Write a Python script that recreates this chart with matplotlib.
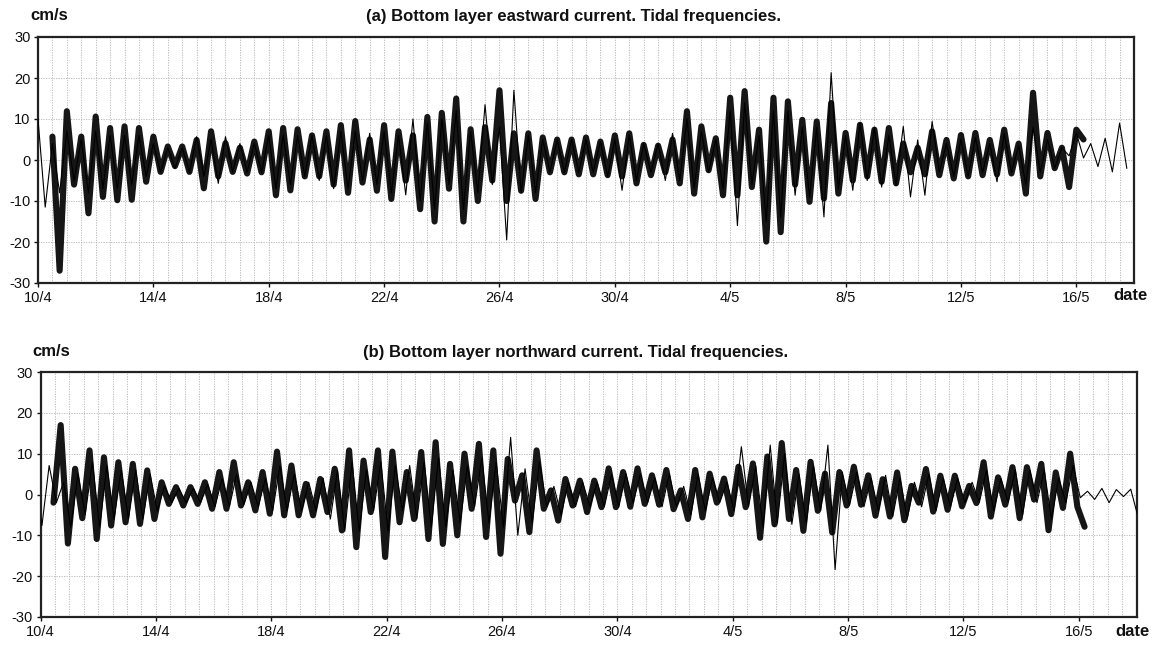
import numpy as np
import matplotlib
matplotlib.use('Agg')
import matplotlib.pyplot as plt
from matplotlib.ticker import MultipleLocator

plt.rcParams['font.family'] = ['Liberation Sans', 'DejaVu Sans']
plt.rcParams['axes.unicode_minus'] = False

# time axis: days from 10/4 00:00; one value per tidal high / low (6 h apart)
step = 0.25

# (a) eastward current, observed (thick) and modelled (thin), cm/s
east_obs_start = 0.5
east_obs = [5.7, -27, 11.9, -6, 5.7, -13, 10.6, -9, 7.8, -9.8, 8.2, -9.7,
            7.8, -5.3, 5.7, -2.9, 3.3, -1.5, 3.3, -2.9, 4.9, -6.9, 7, -4,
            4.1, -2.9, 3, -3.3, 4.5, -3, 7, -8.6, 7.8, -7.4, 7.5, -4,
            6, -4, 7, -6, 8.5, -8, 9.5, -5.5, 5, -7.5, 8.5, -9.5,
            7, -5, 6, -12, 10.5, -15, 11.5, -7, 15, -15, 7.5, -10,
            8, -5, 17, -10, 6.5, -7.5, 6.5, -9.5, 5.5, -3, 5, -3,
            5, -3.5, 5.5, -3.5, 4.5, -3.7, 6, -4, 6.5, -5.7, 3.7, -3.7,
            3.5, -3, 5, -5.7, 11.9, -8.2, 8.2, -2.5, 5.3, -8.6, 15.2, -8.6,
            16.8, -6.6, 7.4, -19.9, 15.2, -17.6, 14.3, -6, 9.8, -10.2, 9.4, -9.4,
            13.9, -8.2, 6.6, -5, 8.6, -4, 7.4, -5.3, 7.8, -5.7, 4, -3,
            3, -3.5, 7, -3.7, 4.9, -4.5, 6.1, -4, 6.6, -3.7, 4.9, -3.5,
            7.4, -3.3, 4, -8.2, 16.4, -4, 6.6, -2, 3, -6.6, 7.4, 5]
east_mod_start = 0.0
east_mod = [10, -11.5, 4, -8, 7, -5, 5, -8, 7, -7, 6, -7,
            6, -6, 6, -4, 4, -3, 3, -2, 3, -3, 5.7, -4,
            5, -5.7, 5.7, -3, 4, -3, 4, -3, 6, -7, 6, -6,
            6, -4, 6, -5, 6, -7, 7, -7, 7, -5, 6.5, -6,
            7, -8, 6, -8.5, 10, -10, 9, -12, 10, -6, 12, -12,
            7, -8, 13.5, -6, 8, -19.5, 17, -8, 6, -8, 5, -3,
            5, -3, 5, -3, 5, -3, 4.5, -4, 5, -7.4, 6, -5,
            4, -3, 4, -5, 6.5, -5, 10, -7, 7, -3, 5, -7,
            12, -16, 14, -6, 6, -15, 12, -14, 12, -8.6, 8, -9,
            8, -13.9, 21.3, -7, 6, -7.4, 9, -5, 8, -6.6, 6, -6.1,
            8.2, -9, 4.9, -8.6, 9.4, -3, 4, -4, 5, -4, 5.5, -3,
            4, -5.3, 6.5, -3, 3.5, -6, 8, -3, 5, -2, 3, 1,
            6.6, 0.5, 4, -1.6, 5.3, -2.9, 9, -2]

# (b) northward current
north_obs_start = 0.45
north_obs = [-2, 17, -12, 6.3, -5.8, 10.8, -10.9, 9.1, -7.6, 7.9, -6.8, 7.5,
             -7.2, 5.9, -6, 3, -2.3, 1.8, -2.7, 1.8, -2.3, 3, -3.5, 5.5,
             -3.5, 7.9, -2.7, 3, -3.9, 5.5, -4.7, 10.5, -5.1, 7.1, -5.1, 2.6,
             -5.1, 3.8, -4.3, 6.3, -8.8, 10.8, -12.9, 8.3, -4.3, 10.8, -15.3, 10.5,
             -6.8, 5.5, -6, 10.4, -10.9, 12.8, -12.1, 7.5, -10, 10, -3.5, 12.4,
             -10.4, 10.8, -14.5, 8.7, -1.5, 4.7, -9.2, 10.8, -3.5, 1, -6.4, 3.8,
             -2.7, 3.4, -4.3, 3.4, -3.1, 6.4, -3.1, 5.5, -3, 6.4, -2.3, 4.7,
             -2.5, 6, -3.6, 1, -6, 6, -5.6, 5.1, -2, 3.9, -4.8, 6.8,
             -3.1, 7.6, -10.6, 9.3, -7.3, 12.6, -6, 6, -8.9, 8, -4, 5.1,
             -9.3, 5.5, -2.7, 6.8, -2.5, 4.7, -5.2, 3.75, -5.4, 5.4, -6.3, 2.1,
             -2, 6.25, -4.2, 4.6, -3.75, 4.6, -2.9, 2.1, -2.1, 7.9, -5.4, 4.2,
             -2.5, 6.7, -5.8, 6.7, -1.25, 7.5, -8.75, 5.4, -3.3, 10, -3, -7.9]
north_mod_start = -0.2
north_mod = [3.5, -7.6, 7.1, -2, 3, -8, 5, -5, 8, -8, 7, -6,
             6, -6, 6, -6, 5, -4, 2, -2, 1.5, -2, 1.5, -2,
             2.5, -3, 4, -3, 5, -2.5, 3, -3, 4, -4, 7, -4,
             5, -4, 3, -4, 4, -6, 6, -9, 8, -9, 6, -4,
             8, -9, 7.1, -4, 7.1, -6, 8, -8, 9, -8, 6, -7,
             7, -3, 9, -7, 8, -8, 14, -10, 6.3, -7, 8, -3,
             2, -5, 3, -3, 3, -3, 3, -3, 5, -3.1, 5.1, -2,
             5, -2, 4, -3, 5, -3, 2, -5, 5, -4, 4, -2,
             3, -4, 11.7, -3, 7, -8, 12.1, -7, 10, -7.3, 5, -7,
             7, -4, 12.1, -18.4, 5.5, -2.7, 5.5, -3, 4, -4, 4.7, -5.4,
             4, -6, 3, -3, 5, -4, 4, -3, 4, -2, 3, -2,
             6, -4, 4, -2, 6, -5, 6, -2, 6, -6, 4, -2,
             7, -0.8, 0.8, -1.2, 1.5, -2, 1.2, -0.5, 1.3, -5.4]

tick_days = [0, 4, 8, 12, 16, 20, 24, 28, 32, 36]
tick_labels = ['10/4', '14/4', '18/4', '22/4', '26/4', '30/4', '4/5', '8/5', '12/5', '16/5']


def times(start, vals):
    return start + step * np.arange(len(vals))


def style(ax):
    ax.set_xlim(0, 38)
    ax.set_ylim(-30, 30)
    ax.set_xticks(tick_days)
    ax.set_xticklabels(tick_labels)
    ax.set_yticks(range(-30, 31, 10))
    ax.xaxis.set_minor_locator(MultipleLocator(0.5))
    gs = dict(color='#b4b4b4', lw=0.6, ls=(0, (1.5, 1.5)))
    ax.grid(which='both', axis='x', **gs)
    ax.grid(which='major', axis='y', **gs)
    ax.tick_params(which='minor', length=0)
    ax.tick_params(which='major', direction='out', length=3, width=1,
                   labelsize=10.5, pad=2.5, colors='#111111')
    for s in ax.spines.values():
        s.set_linewidth(1.6)
        s.set_color('#222222')


fig = plt.figure(figsize=(11.57, 6.52), dpi=100)
ax1 = fig.add_axes([38 / 1157, 1 - 283 / 652, 1096 / 1157, 246 / 652])
ax2 = fig.add_axes([40.5 / 1157, 1 - 617 / 652, 1096 / 1157, 245 / 652])

panels = [(ax1, east_obs_start, east_obs, east_mod_start, east_mod),
          (ax2, north_obs_start, north_obs, north_mod_start, north_mod)]
for ax, os_, obs, ms, mod in panels:
    style(ax)
    ax.plot(times(os_, obs), obs, color='#161616', lw=4.4,
            solid_joinstyle='round', solid_capstyle='round', zorder=3)
    ax.plot(times(ms, mod), mod, color='black', lw=0.8, zorder=4)

bold = dict(fontweight='bold', color='#111111')
fig.text(30 / 1157, 1 - 16 / 652, 'cm/s', ha='left', va='center', fontsize=12, **bold)
fig.text(573 / 1157, 1 - 16 / 652, '(a) Bottom layer eastward current. Tidal frequencies.',
         ha='center', va='center', fontsize=12, **bold)
fig.text(1131 / 1157, 1 - 296 / 652, 'date', ha='center', va='center', fontsize=12, **bold)
fig.text(32 / 1157, 1 - 352 / 652, 'cm/s', ha='left', va='center', fontsize=12, **bold)
fig.text(576 / 1157, 1 - 353 / 652, '(b) Bottom layer northward current. Tidal frequencies.',
         ha='center', va='center', fontsize=12, **bold)
fig.text(1133 / 1157, 1 - 631 / 652, 'date', ha='center', va='center', fontsize=12, **bold)

fig.savefig('out.png', dpi=100)
